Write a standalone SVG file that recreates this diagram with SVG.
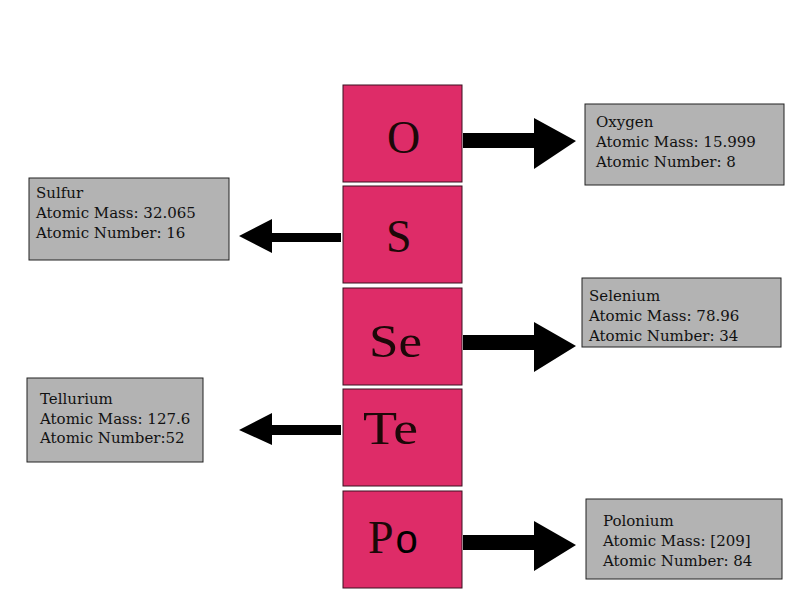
<svg xmlns="http://www.w3.org/2000/svg" width="790" height="592" viewBox="0 0 790 592">
<style>
.el{fill:#DE2C68;stroke:#3a1020;stroke-width:1}
.sym{font-family:"Liberation Serif","Times New Roman",serif;font-size:46px;fill:#1c0808}
.info{fill:#B3B3B3;stroke:#222;stroke-width:1}
.txt{font-family:"DejaVu Serif","Liberation Serif",serif;font-size:15px;fill:#111}
.arr{fill:#000}
</style>
<rect width="790" height="592" fill="#fff"/>
<g id="el-O"><rect class="el" x="343" y="85" width="119" height="97"/><text class="sym" x="387" y="153">O</text></g>
<g id="el-S"><rect class="el" x="343" y="186" width="119" height="97"/><text class="sym" x="386" y="252">S</text></g>
<g id="el-Se"><rect class="el" x="343" y="288" width="119" height="97"/><text class="sym" x="369" y="357" textLength="53" lengthAdjust="spacingAndGlyphs">Se</text></g>
<g id="el-Te"><rect class="el" x="343" y="389" width="119" height="97"/><text class="sym" x="363" y="444" textLength="55" lengthAdjust="spacingAndGlyphs">Te</text></g>
<g id="el-Po"><rect class="el" x="343" y="491" width="119" height="97"/><text class="sym" x="368" y="553">P<tspan dx="2" style="font-family:'Liberation Sans',Arial,sans-serif;font-size:40px;fill:#000">o</tspan></text></g>
<g id="info-O"><rect class="info" x="585" y="104" width="199" height="81"/><text class="txt" x="596" y="127">Oxygen</text><text class="txt" x="596" y="147">Atomic Mass: 15.999</text><text class="txt" x="596" y="167">Atomic Number: 8</text></g>
<g id="info-S"><rect class="info" x="29" y="178" width="200" height="82"/><text class="txt" x="36" y="198">Sulfur</text><text class="txt" x="36" y="218">Atomic Mass: 32.065</text><text class="txt" x="36" y="238">Atomic Number: 16</text></g>
<g id="info-Se"><rect class="info" x="582" y="278" width="199" height="69"/><text class="txt" x="589" y="301">Selenium</text><text class="txt" x="589" y="321">Atomic Mass: 78.96</text><text class="txt" x="589" y="341">Atomic Number: 34</text></g>
<g id="info-Te"><rect class="info" x="27" y="378" width="176" height="84"/><text class="txt" x="40" y="404">Tellurium</text><text class="txt" x="40" y="424">Atomic Mass: 127.6</text><text class="txt" x="40" y="443">Atomic Number:52</text></g>
<g id="info-Po"><rect class="info" x="586" y="499" width="196" height="80"/><text class="txt" x="603" y="526">Polonium</text><text class="txt" x="603" y="546">Atomic Mass: [209]</text><text class="txt" x="603" y="566">Atomic Number: 84</text></g>
<g id="connectors">
<path class="arr" d="M463 133 H534 V118 L576 141 L534 169 V148 H463 Z"/>
<path class="arr" d="M341 233 H272 V219 L239 236 L272 253 V242 H341 Z"/>
<path class="arr" d="M463 335 H534 V322 L576 346 L534 372 V350 H463 Z"/>
<path class="arr" d="M341 425 H272 V413 L239 430 L272 445 V435 H341 Z"/>
<path class="arr" d="M463 535 H534 V521 L576 545 L534 571 V550 H463 Z"/>
</g>
</svg>
